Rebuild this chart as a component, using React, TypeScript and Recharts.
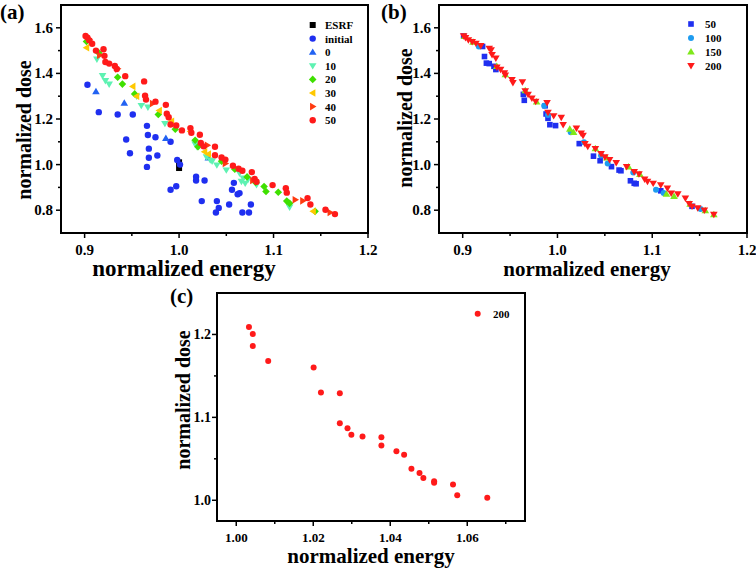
import { Label, Legend, ReferenceArea, Scatter, ScatterChart, XAxis, YAxis } from "recharts"

const FONT = "'Liberation Serif', 'Times New Roman', serif"

// panel (a): optimisation runs, normalized energy vs normalized dose
const aEsrf = [[1.0, 1.01], [1.0, 0.985]]
const aInitial = [
  [0.903, 1.35], [0.915, 1.23], [0.935, 1.22], [0.944, 1.11], [0.948, 1.05], [0.951, 1.22],
  [0.966, 1.17], [0.967, 1.13], [0.968, 1.07], [0.968, 1.03], [0.966, 0.99], [0.975, 1.12],
  [0.977, 1.04], [0.991, 1.1], [0.991, 0.89], [0.997, 0.905], [0.998, 1.02], [1.001, 1.0],
  [1.018, 0.947], [1.018, 0.93], [1.027, 0.93], [1.024, 0.84], [1.04, 0.84], [1.039, 0.79],
  [1.042, 0.81], [1.053, 0.825], [1.056, 0.89], [1.058, 0.92], [1.062, 0.87], [1.064, 0.875],
  [1.067, 0.79], [1.074, 0.79], [1.076, 0.825],
]
const a0 = [[0.912, 1.32], [0.942, 1.27], [0.986, 1.115], [1.031, 1.03]]
const a10 = [
  [0.913, 1.462], [0.919, 1.39], [0.922, 1.368], [0.926, 1.353], [0.955, 1.3], [0.96, 1.259],
  [0.967, 1.252], [0.985, 1.18], [1.017, 1.09], [1.019, 1.078], [1.029, 1.034], [1.033, 1.02],
  [1.035, 1.015], [1.04, 0.998], [1.05, 0.976], [1.064, 0.962], [1.066, 0.926], [1.068, 0.94],
  [1.07, 0.918], [1.073, 0.935], [1.082, 0.912], [1.117, 0.813],
]
const a20 = [
  [0.902, 1.54], [0.915, 1.49], [0.935, 1.383], [0.94, 1.353], [0.953, 1.31], [0.978, 1.22],
  [0.996, 1.155], [1.017, 1.107], [1.02, 1.078], [1.045, 1.015], [1.059, 0.98], [1.072, 0.946],
  [1.081, 0.922], [1.09, 0.904], [1.092, 0.882], [1.105, 0.879], [1.114, 0.84], [1.117, 0.83],
  [1.144, 0.795],
]
const a30 = [
  [0.902, 1.513], [0.951, 1.343], [0.955, 1.3], [0.979, 1.237], [0.992, 1.19], [1.012, 1.145],
  [1.027, 1.056], [1.031, 1.046], [1.142, 0.795],
]
const a40 = [
  [0.905, 1.55], [0.916, 1.48], [0.935, 1.42], [0.972, 1.268], [1.03, 1.085], [1.049, 1.005],
  [1.078, 0.93], [1.123, 0.846], [1.131, 0.841], [1.16, 0.79],
]
const a50 = [
  [0.901, 1.564], [0.903, 1.557], [0.905, 1.545], [0.908, 1.53], [0.912, 1.5], [0.92, 1.506],
  [0.921, 1.477], [0.922, 1.45], [0.926, 1.443], [0.932, 1.433], [0.934, 1.419], [0.943, 1.388],
  [0.963, 1.365], [0.964, 1.302], [0.965, 1.285], [0.975, 1.276], [0.986, 1.262], [0.987, 1.223],
  [0.989, 1.208], [0.991, 1.176], [0.997, 1.172], [1.003, 1.15], [1.012, 1.16], [1.013, 1.14],
  [1.022, 1.131], [1.023, 1.095], [1.026, 1.08], [1.038, 1.078], [1.038, 1.041], [1.045, 1.031],
  [1.049, 1.022], [1.057, 0.995], [1.063, 0.982], [1.067, 0.973], [1.077, 0.967], [1.08, 0.937],
  [1.082, 0.925], [1.099, 0.91], [1.113, 0.896], [1.114, 0.877], [1.136, 0.853], [1.139, 0.825],
  [1.155, 0.802], [1.165, 0.783],
]

// panel (b): population sizes
const b50 = [
  [0.901, 1.564], [0.921, 1.518], [0.923, 1.474], [0.925, 1.445], [0.928, 1.443], [0.933, 1.431],
  [0.935, 1.417], [0.964, 1.308], [0.965, 1.282], [0.987, 1.258], [0.988, 1.222], [0.99, 1.203],
  [0.992, 1.175], [0.998, 1.171], [1.023, 1.092], [1.038, 1.037], [1.045, 1.017], [1.057, 0.991],
  [1.065, 0.976], [1.067, 0.973], [1.077, 0.929], [1.081, 0.918], [1.083, 0.916], [1.109, 0.885],
  [1.142, 0.817],
]
const b100 = [
  [0.917, 1.518], [0.986, 1.258], [0.99, 1.218], [1.014, 1.142], [1.028, 1.098], [1.046, 1.04],
  [1.053, 1.005], [1.08, 0.965], [1.104, 0.89], [1.112, 0.875], [1.151, 0.805],
]
const b150 = [
  [0.902, 1.562], [0.911, 1.537], [0.936, 1.431], [0.945, 1.395], [0.966, 1.325], [0.978, 1.275],
  [1.013, 1.156], [1.017, 1.142], [1.04, 1.07], [1.052, 1.03], [1.075, 0.99], [1.087, 0.957],
  [1.115, 0.871], [1.123, 0.861], [1.14, 0.827], [1.156, 0.798], [1.165, 0.781],
]
const b200 = [
  [0.901, 1.564], [0.903, 1.557], [0.906, 1.547], [0.91, 1.539], [0.914, 1.532], [0.919, 1.522],
  [0.928, 1.51], [0.93, 1.503], [0.931, 1.482], [0.935, 1.467], [0.936, 1.427], [0.94, 1.417],
  [0.944, 1.402], [0.945, 1.392], [0.952, 1.373], [0.953, 1.359], [0.963, 1.363], [0.966, 1.323],
  [0.969, 1.308], [0.973, 1.291], [0.977, 1.277], [0.989, 1.272], [0.99, 1.229], [0.996, 1.214],
  [1.004, 1.207], [1.006, 1.175], [1.02, 1.16], [1.025, 1.138], [1.027, 1.128], [1.029, 1.092],
  [1.032, 1.08], [1.04, 1.07], [1.046, 1.048], [1.05, 1.034], [1.055, 1.022], [1.062, 1.008],
  [1.073, 0.991], [1.081, 0.969], [1.086, 0.959], [1.092, 0.936], [1.095, 0.926], [1.101, 0.918],
  [1.109, 0.911], [1.116, 0.897], [1.12, 0.875], [1.127, 0.871], [1.135, 0.853], [1.139, 0.829],
  [1.142, 0.817], [1.148, 0.81], [1.155, 0.8], [1.165, 0.781],
]

// panel (c): zoom on the 200 population
const c200 = [
  [1.0033, 1.209], [1.0043, 1.2004], [1.0043, 1.186], [1.0083, 1.168], [1.0201, 1.16],
  [1.022, 1.13], [1.0269, 1.129], [1.0269, 1.093], [1.0289, 1.087], [1.0299, 1.079],
  [1.0328, 1.077], [1.0377, 1.076], [1.0377, 1.066], [1.0416, 1.059], [1.0436, 1.055],
  [1.0455, 1.038], [1.0476, 1.033], [1.0486, 1.027], [1.0514, 1.023], [1.0514, 1.021],
  [1.0563, 1.019], [1.0574, 1.006], [1.0652, 1.003],
]

const abXTicks = [0.9, 0.95, 1.0, 1.05, 1.1, 1.15, 1.2]
const abYTicks = [0.8, 0.9, 1.0, 1.1, 1.2, 1.3, 1.4, 1.5, 1.6]
const cXTicks = [1.0, 1.01, 1.02, 1.03, 1.04, 1.05, 1.06, 1.07]
const cYTicks = [1.0, 1.05, 1.1, 1.15, 1.2]

const pts = (a: number[][]) => a.map(([x, y]) => ({ x, y }))

function marker(kind: string, cx: number, cy: number, r: number, fill: string) {
  switch (kind) {
    case "square":
      return <rect x={cx - r} y={cy - r} width={2 * r} height={2 * r} fill={fill} />
    case "up":
      return <polygon points={`${cx},${cy - r} ${cx + r},${cy + r * 0.7} ${cx - r},${cy + r * 0.7}`} fill={fill} />
    case "down":
      return <polygon points={`${cx},${cy + r} ${cx + r},${cy - r * 0.7} ${cx - r},${cy - r * 0.7}`} fill={fill} />
    case "left":
      return <polygon points={`${cx - r},${cy} ${cx + r * 0.7},${cy - r} ${cx + r * 0.7},${cy + r}`} fill={fill} />
    case "right":
      return <polygon points={`${cx + r},${cy} ${cx - r * 0.7},${cy - r} ${cx - r * 0.7},${cy + r}`} fill={fill} />
    case "diamond":
      return <polygon points={`${cx},${cy - r} ${cx + r},${cy} ${cx},${cy + r} ${cx - r},${cy}`} fill={fill} />
    default:
      return <circle cx={cx} cy={cy} r={r} fill={fill} />
  }
}

const shape = (kind: string, r: number, fill: string) => (p: any) => marker(kind, p.cx, p.cy, r, fill)

const isMajor = (v: number, step: number) => Math.abs(Math.round(v / step) * step - v) < 1e-6

function xTick(step: number, digits: number, gap: number, size: number) {
  return (p: any) => {
    const v = p.payload.value
    const major = isMajor(v, step)
    return (
      <g>
        <line x1={p.x} x2={p.x} y1={p.y} y2={p.y + (major ? 5 : 3)} stroke="#000" strokeWidth={1.5} />
        {major && (
          <text x={p.x} y={p.y + gap} textAnchor="middle" fontFamily={FONT} fontWeight="bold" fontSize={size} fill="#000">
            {v.toFixed(digits)}
          </text>
        )}
      </g>
    )
  }
}

function yTick(step: number, digits: number, gap: number, size: number) {
  return (p: any) => {
    const v = p.payload.value
    const major = isMajor(v, step)
    return (
      <g>
        <line x1={p.x - (major ? 5 : 3)} x2={p.x} y1={p.y} y2={p.y} stroke="#000" strokeWidth={1.5} />
        {major && (
          <text x={p.x - gap} y={p.y + 5} textAnchor="end" fontFamily={FONT} fontWeight="bold" fontSize={size} fill="#000">
            {v.toFixed(digits)}
          </text>
        )}
      </g>
    )
  }
}

type Item = { label: string; kind: string; r: number; color: string }

function legendBox(items: Item[], mx: number, tx: number, y0: number, dy: number, w: number, h: number) {
  return () => (
    <svg width={w} height={h} style={{ display: "block" }}>
      {items.map((it, i) => (
        <g key={it.label}>
          {marker(it.kind, mx, y0 + i * dy, it.r, it.color)}
          <text x={tx} y={y0 + i * dy + 4} fontFamily={FONT} fontWeight="bold" fontSize={11} fill="#000">
            {it.label}
          </text>
        </g>
      ))}
    </svg>
  )
}

const txt = (s: string, x: number, y: number, size: number, rotate = false) => () => (
  <text
    x={x}
    y={y}
    textAnchor="middle"
    fontFamily={FONT}
    fontWeight="bold"
    fontSize={size}
    fill="#000"
    transform={rotate ? `rotate(-90 ${x} ${y})` : undefined}
  >
    {s}
  </text>
)

const corner = (s: string, x: number, y: number) => () => (
  <text x={x} y={y} fontFamily={FONT} fontWeight="bold" fontSize={21} fill="#000">
    {s}
  </text>
)

const aSeries: Item[] = [
  { label: "ESRF", kind: "square", r: 3, color: "#000000" },
  { label: "initial", kind: "circle", r: 3.2, color: "#1f2ff0" },
  { label: "0", kind: "up", r: 3.8, color: "#2262f2" },
  { label: "10", kind: "down", r: 3.8, color: "#5ef2b2" },
  { label: "20", kind: "diamond", r: 3.8, color: "#3fe000" },
  { label: "30", kind: "left", r: 3.8, color: "#ffc800" },
  { label: "40", kind: "right", r: 3.8, color: "#ff3a10" },
  { label: "50", kind: "circle", r: 3.2, color: "#ff1a1a" },
]
const aData = [aEsrf, aInitial, a0, a10, a20, a30, a40, a50]

const bSeries: Item[] = [
  { label: "50", kind: "square", r: 2.8, color: "#1f2ff0" },
  { label: "100", kind: "circle", r: 3, color: "#1e9cf0" },
  { label: "150", kind: "up", r: 3.8, color: "#7fe81a" },
  { label: "200", kind: "down", r: 3.8, color: "#ff1a1a" },
]
const bData = [b50, b100, b150, b200]

const cSeries: Item[] = [{ label: "200", kind: "circle", r: 3, color: "#ff1a1a" }]

export default function App() {
  return (
    <div style={{ position: "absolute", left: 0, top: 0, width: 756, height: 568, background: "#fff", overflow: "hidden" }}>
      <div style={{ position: "absolute", left: 0, top: 0 }}>
        <ScatterChart width={380} height={284} margin={{ top: 5, right: 12, bottom: 0, left: 0 }}>
          <XAxis
            type="number"
            dataKey="x"
            domain={[0.875, 1.2]}
            ticks={abXTicks}
            height={51}
            axisLine={false}
            tickLine={false}
            tickSize={0}
            tickMargin={0}
            tick={xTick(0.1, 1, 21.5, 15)}
            interval={0}
          >
            <Label content={txt("normalized energy", 184, 276, 23)} />
          </XAxis>
          <YAxis
            type="number"
            dataKey="y"
            domain={[0.7, 1.7]}
            ticks={abYTicks}
            width={61}
            axisLine={false}
            tickLine={false}
            tickSize={0}
            tickMargin={0}
            tick={yTick(0.2, 1, 8, 15)}
            interval={0}
          >
            <Label content={txt("normalized dose", 31, 130, 20, true)} />
            <Label content={corner("(a)", 0, 19)} />
          </YAxis>
          <ReferenceArea x1={0.875} x2={1.2} y1={0.7} y2={1.7} fill="none" stroke="#000" strokeWidth={2} />
          {aSeries.map((s, i) => (
            <Scatter key={s.label} name={s.label} data={pts(aData[i])} shape={shape(s.kind, s.r, s.color)} isAnimationActive={false} />
          ))}
          <Legend
            layout="vertical"
            align="center"
            verticalAlign="middle"
            content={legendBox(aSeries, 12.7, 25, 10, 13.6, 80, 120)}
            wrapperStyle={{ left: 300, top: 15, width: 80, height: 120 }}
          />
        </ScatterChart>
      </div>

      <div style={{ position: "absolute", left: 380, top: 0 }}>
        <ScatterChart width={376} height={284} margin={{ top: 5, right: 9, bottom: 0, left: 0 }}>
          <XAxis
            type="number"
            dataKey="x"
            domain={[0.875, 1.2]}
            ticks={abXTicks}
            height={51}
            axisLine={false}
            tickLine={false}
            tickSize={0}
            tickMargin={0}
            tick={xTick(0.1, 1, 21.5, 15)}
            interval={0}
          >
            <Label content={txt("normalized energy", 207, 276, 21)} />
          </XAxis>
          <YAxis
            type="number"
            dataKey="y"
            domain={[0.7, 1.7]}
            ticks={abYTicks}
            width={59}
            axisLine={false}
            tickLine={false}
            tickSize={0}
            tickMargin={0}
            tick={yTick(0.2, 1, 8, 15)}
            interval={0}
          >
            <Label content={txt("normalized dose", 32, 118, 20, true)} />
            <Label content={corner("(b)", 1, 19)} />
          </YAxis>
          <ReferenceArea x1={0.875} x2={1.2} y1={0.7} y2={1.7} fill="none" stroke="#000" strokeWidth={2} />
          {bSeries.map((s, i) => (
            <Scatter key={s.label} name={s.label} data={pts(bData[i])} shape={shape(s.kind, s.r, s.color)} isAnimationActive={false} />
          ))}
          <Legend
            layout="vertical"
            align="center"
            verticalAlign="middle"
            content={legendBox(bSeries, 11, 25, 10, 13.9, 70, 70)}
            wrapperStyle={{ left: 300, top: 14, width: 70, height: 70 }}
          />
        </ScatterChart>
      </div>

      <div style={{ position: "absolute", left: 150, top: 270 }}>
        <ScatterChart width={390} height={298} margin={{ top: 23, right: 15, bottom: 0, left: 0 }}>
          <XAxis
            type="number"
            dataKey="x"
            domain={[0.995, 1.075]}
            ticks={cXTicks}
            height={47}
            axisLine={false}
            tickLine={false}
            tickSize={0}
            tickMargin={0}
            tick={xTick(0.02, 2, 20.5, 13)}
            interval={0}
          >
            <Label content={txt("normalized energy", 221, 293, 21)} />
          </XAxis>
          <YAxis
            type="number"
            dataKey="y"
            domain={[0.975, 1.25]}
            ticks={cYTicks}
            width={67}
            axisLine={false}
            tickLine={false}
            tickSize={0}
            tickMargin={0}
            tick={yTick(0.1, 1, 6, 14)}
            interval={0}
          >
            <Label content={txt("normalized dose", 40, 130, 20, true)} />
            <Label content={corner("(c)", 20, 33)} />
          </YAxis>
          <ReferenceArea x1={0.995} x2={1.075} y1={0.975} y2={1.25} fill="none" stroke="#000" strokeWidth={2} />
          {cSeries.map((s) => (
            <Scatter key={s.label} name={s.label} data={pts(c200)} shape={shape(s.kind, s.r, s.color)} isAnimationActive={false} />
          ))}
          <Legend
            layout="vertical"
            align="center"
            verticalAlign="middle"
            content={legendBox(cSeries, 9.7, 25, 9.7, 14, 60, 24)}
            wrapperStyle={{ left: 318, top: 34, width: 60, height: 24 }}
          />
        </ScatterChart>
      </div>
    </div>
  )
}
